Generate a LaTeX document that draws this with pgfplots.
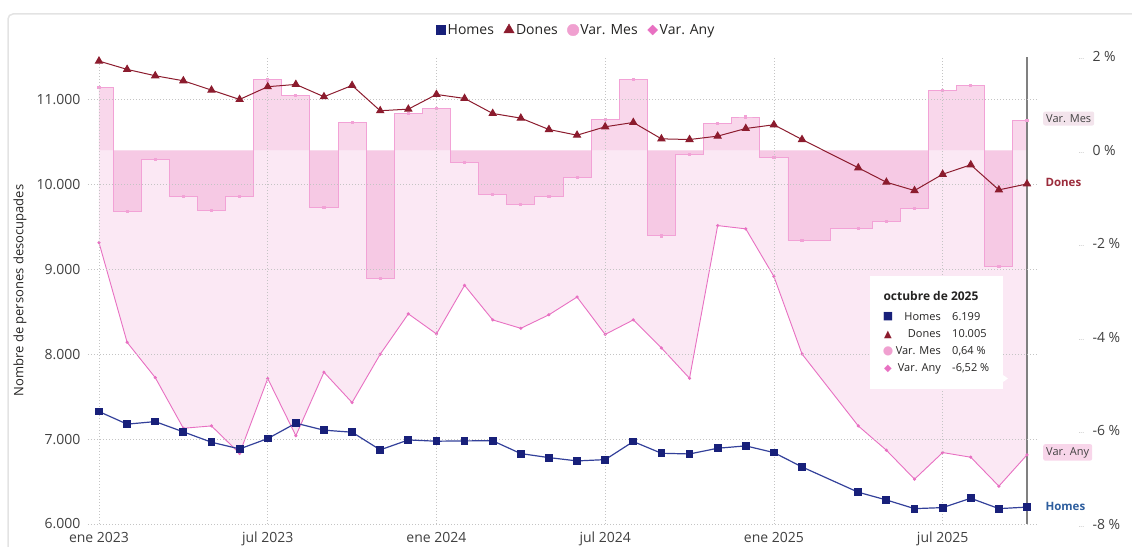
\documentclass[border=0pt]{standalone}
\usepackage{fontspec}
\setmainfont{Open Sans}
\newfontfamily\symfont{DejaVu Sans}
\usepackage{pgfplots}
\usepackage{pgfplotstable}
\pgfplotsset{compat=1.18}

\definecolor{homes}{HTML}{18207A}
\definecolor{homesline}{HTML}{33409A}
\definecolor{dones}{HTML}{8C1C2E}
\definecolor{mes}{HTML}{F0A0D0}
\definecolor{mesline}{HTML}{F2A2D6}
\definecolor{anyc}{HTML}{E870C2}
\definecolor{anyfill}{HTML}{FBE8F4}
\definecolor{gridc}{HTML}{C4C4C4}
\definecolor{tickc}{HTML}{404040}
\definecolor{txt}{HTML}{252423}
\definecolor{framec}{HTML}{E3E3E3}
\definecolor{hoverc}{HTML}{808080}
\definecolor{tagmes}{HTML}{F3E4EC}
\definecolor{tagany}{HTML}{F8D6EA}
\definecolor{homeslbl}{HTML}{2E5E9E}
\definecolor{doneslbl}{HTML}{9B2C3C}
\definecolor{dotc}{HTML}{B0B0B0}

\pgfplotstableread{
x homes dones
0 7324 11452
1 7176 11354
2 7206 11279
3 7085 11220
4 6963 11110
5 6884 11000
6 7006 11150
7 7187 11177
8 7105 11032
9 7081 11165
10 6873 10867
11 6990 10886
12 6975 11059
13 6979 11012
14 6980 10835
15 6829 10780
16 6782 10646
17 6743 10579
18 6758 10678
19 6971 10729
20 6833 10536
21 6825 10528
22 6892 10568
23 6920 10658
24 6841 10702
25 6672 10528
27 6374 10195
28 6283 10025
29 6181 9927
30 6193 10119
31 6303 10230
32 6181 9935
33 6199 10005
}\tabHD

\pgfplotstableread{
x mes any
0 1.345 -1.975
1 -1.315 -4.11
2 -0.20 -4.865
3 -0.99 -5.95
4 -1.29 -5.90
5 -0.99 -6.49
6 1.51 -4.885
7 1.17 -6.11
8 -1.22 -4.75
9 0.60 -5.40
10 -2.75 -4.365
11 0.79 -3.50
12 0.90 -3.93
13 -0.25 -2.89
14 -0.95 -3.63
15 -1.165 -3.81
16 -0.99 -3.52
17 -0.585 -3.14
18 0.665 -3.94
19 1.52 -3.63
20 -1.83 -4.23
21 -0.08 -4.88
22 0.585 -1.61
23 0.715 -1.68
24 -0.155 -2.70
25 -1.925 -4.36
27 -1.67 -5.90
28 -1.52 -6.42
29 -1.25 -7.04
30 1.29 -6.47
31 1.395 -6.57
32 -2.48 -7.19
33 0.64 -6.52
}\tabVar

\pgfplotsset{
  base/.style={scale only axis, width=949pt, height=467pt, at={(88pt,22pt)}, anchor=south west,
    xmin=-0.391, xmax=33.356, clip=false, scaled y ticks=false, scaled x ticks=false,
    tick label style={font=\fontsize{14}{16}\selectfont, text=tickc}},
  legmark/.style={legend image code/.code={\path[draw=none, fill=none] (0pt,-5pt) rectangle (11pt,5pt); \draw[##1] plot coordinates {(5.5pt,0pt)};}},
}

\begin{document}
\begin{tikzpicture}
\useasboundingbox (0,0) rectangle (1132pt,546pt);
\draw[framec, line width=1.5pt, rounded corners=5pt] (8pt,-5pt) -- (8pt,532pt) -- (1140pt,532pt);

% right axis: percentages
\begin{axis}[base, ymin=-8, ymax=2,
  axis y line*=right, axis x line=none,
  y axis line style={draw=none}, ytick style={draw=none},
  ytick={-8,-6,-4,-2,0,2},
  yticklabels={{\makebox[14pt][l]{\textcolor{dotc}{\fontsize{7}{7}\selectfont ···}}-8 \%},
               {\makebox[14pt][l]{\textcolor{dotc}{\fontsize{7}{7}\selectfont ···}}-6 \%},
               {\makebox[14pt][l]{\textcolor{dotc}{\fontsize{7}{7}\selectfont ···}}-4 \%},
               {\makebox[14pt][l]{\textcolor{dotc}{\fontsize{7}{7}\selectfont ···}}-2 \%},
               {\makebox[14pt][l]{\textcolor{dotc}{\fontsize{7}{7}\selectfont ···}}0 \%},
               {\makebox[14pt][l]{\textcolor{dotc}{\fontsize{7}{7}\selectfont ···}}2 \%}},
  yticklabel style={anchor=west, xshift=38pt},
]
\addplot[fill=anyfill, draw=none, forget plot] table[x=x, y=any]{\tabVar} \closedcycle;
\addplot[const plot mark mid, fill=mes, fill opacity=0.42, draw=none, forget plot] table[x=x, y=mes]{\tabVar} \closedcycle;
\addplot[const plot mark mid, mesline, line width=0.9pt, mark=square*, mark size=1.1pt, forget plot] table[x=x, y=mes]{\tabVar};
\addplot[anyc, line width=0.9pt, mark=*, mark size=1.1pt, forget plot] table[x=x, y=any]{\tabVar};
\draw[hoverc, line width=1.3pt] (axis cs:33,-8) -- (axis cs:33,2);
\node[anchor=west, xshift=16pt, yshift=2pt, fill=tagmes, rounded corners=2pt, inner xsep=3pt, inner ysep=3pt,
      font=\fontsize{11}{13}\selectfont, text=tickc] at (axis cs:33,0.64) {Var. Mes};
\node[anchor=west, xshift=16pt, yshift=2.5pt, fill=tagany, rounded corners=2pt, inner xsep=3pt, inner ysep=3pt,
      font=\fontsize{11}{13}\selectfont, text=tickc] at (axis cs:33,-6.52) {Var. Any};
\end{axis}

% left axis: persons
\begin{axis}[base, ymin=6000, ymax=11500,
  axis y line*=left, axis x line*=bottom,
  axis line style={draw=none}, tick style={draw=none},
  ytick={6000,7000,8000,9000,10000,11000},
  yticklabels={6.000,7.000,8.000,9.000,10.000,11.000},
  yticklabel style={anchor=east, xshift=-4pt},
  xtick={0,6,12,18,24,30},
  xticklabels={ene 2023,jul 2023,ene 2024,jul 2024,ene 2025,jul 2025},
  xticklabel style={anchor=base, yshift=-18pt},
  xmajorgrids, ymajorgrids,
  grid style={gridc, line width=0.8pt, dash pattern=on 0.9pt off 2.1pt},
  ylabel={Nombre de persones desocupades},
  every axis y label/.style={at={(rel axis cs:0,0.5)}, xshift=-68pt, rotate=90, anchor=center,
     font=\fontsize{13}{15}\selectfont, text=txt},
  legend columns=4,
  legend style={draw=none, fill=none, at={(0.5137,1)}, anchor=center, yshift=27pt,
     font=\fontsize{14}{16}\selectfont, text=txt, inner sep=0pt,
     nodes={inner xsep=1.5pt, inner ysep=1pt},
     /tikz/every even column/.append style={column sep=8pt}},
  legend cell align=left,
]
\addlegendimage{only marks, mark=square*, mark size=4.6pt, homes, legmark}
\addlegendentry{Homes}
\addlegendimage{only marks, mark=triangle*, mark size=6pt, dones, legmark}
\addlegendentry{Dones}
\addlegendimage{only marks, mark=*, mark size=5.8pt, mes, legmark}
\addlegendentry{Var. Mes}
\addlegendimage{only marks, mark=square*, mark size=3.5pt, mark options={rotate=45}, anyc, legmark}
\addlegendentry{Var. Any}

\addplot[homesline, line width=1.2pt, mark=square*, mark size=3.3pt, mark options={homes}, forget plot]
  table[x=x, y=homes]{\tabHD};
\addplot[dones, line width=1pt, mark=triangle*, mark size=4pt, forget plot]
  table[x=x, y=dones]{\tabHD};
\node[anchor=west, xshift=15pt, yshift=1.5pt, font=\fontsize{11.5}{13}\selectfont\bfseries, text=doneslbl]
  at (axis cs:33,10005) {Dones};
\node[anchor=west, xshift=15pt, yshift=1pt, font=\fontsize{11.5}{13}\selectfont\bfseries, text=homeslbl]
  at (axis cs:33,6199) {Homes};
\end{axis}

% tooltip
\fill[white] (870pt,157pt) rectangle (1003pt,270pt);
\fill[white] (1003pt,171pt) -- (1008pt,167.5pt) -- (1003pt,164pt) -- cycle;
\node[anchor=base west, font=\fontsize{12}{14}\selectfont\bfseries, text=txt] at (880pt,245pt) {octubre de 2025};
\begin{scope}[every node/.style={font=\fontsize{11}{13}\selectfont, text=txt, inner sep=0pt}]
\node[anchor=base east] at (941pt,225.5pt) {Homes};
\node[anchor=base east] at (941pt,208pt) {Dones};
\node[anchor=base east] at (941pt,191pt) {Var. Mes};
\node[anchor=base east] at (941pt,174pt) {Var. Any};
\node[anchor=base west] at (952pt,225.5pt) {6.199};
\node[anchor=base west] at (952pt,208pt) {10.005};
\node[anchor=base west] at (952pt,191pt) {0,64 \%};
\node[anchor=base west] at (952pt,174pt) {-6,52 \%};
\node[anchor=base, text=homes] at (888pt,226pt) {\symfont\fontsize{11}{13}\selectfont ■};
\node[anchor=base, text=dones] at (888pt,208.5pt) {\symfont\fontsize{10}{12}\selectfont ▲};
\node[anchor=base, text=mes] at (888pt,191pt) {\symfont\fontsize{12}{13}\selectfont ●};
\node[anchor=base, text=anyc] at (888pt,174.5pt) {\symfont\fontsize{10}{12}\selectfont ◆};
\end{scope}
\end{tikzpicture}
\end{document}
